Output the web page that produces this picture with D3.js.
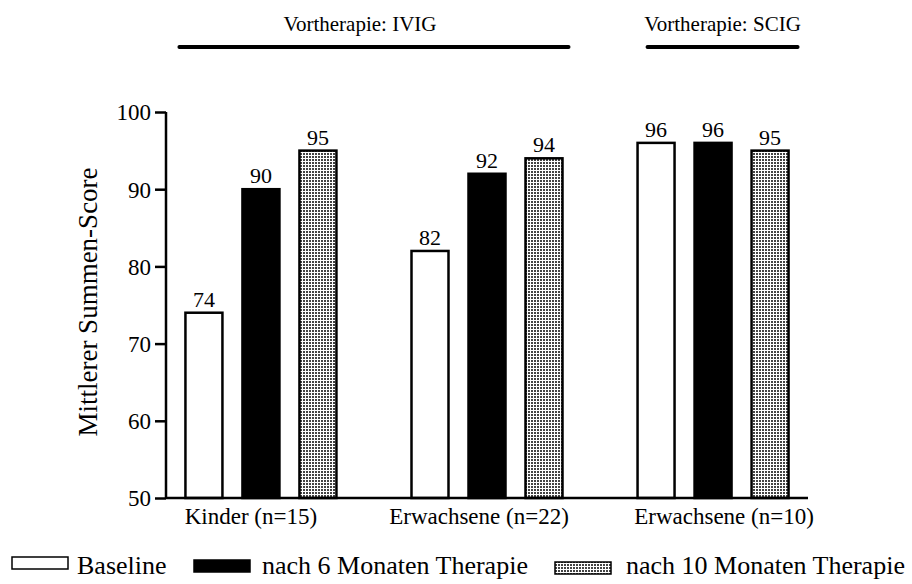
<!DOCTYPE html>
<html><head><meta charset="utf-8">
<script src="https://cdn.jsdelivr.net/npm/d3@7"></script>
<style>body{margin:0;background:#fff}svg{display:block}</style>
</head><body>
<svg id="c" width="912" height="584" style="font-family:'Liberation Serif','Times New Roman',Times,serif"></svg>
<script>
const groups = ["Kinder (n=15)", "Erwachsene (n=22)", "Erwachsene (n=10)"];
const series = ["Baseline", "nach 6 Monaten Therapie", "nach 10 Monaten Therapie"];
const baseline = [74, 82, 96];
const month6 = [90, 92, 96];
const month10 = [95, 94, 95];
const yTicks = [50, 60, 70, 80, 90, 100];
const brackets = [
  {label: "Vortherapie: IVIG", from: 0, to: 1},
  {label: "Vortherapie: SCIG", from: 2, to: 2}
];
const values = [baseline, month6, month10];
const FONT = "'Liberation Serif','Times New Roman',Times,serif";

const svg = d3.select("#c");
const defs = svg.append("defs");
const pat = defs.append("pattern").attr("id","dots").attr("patternUnits","userSpaceOnUse")
  .attr("width",3).attr("height",3);
pat.append("rect").attr("width",3).attr("height",3).attr("fill","#fff");
pat.append("rect").attr("width",2).attr("height",2).attr("fill","#444");

const fills = ["#fff", "#000", "url(#dots)"];

const x0 = d3.scaleBand().domain(groups).range([166, 808]).paddingInner(0.332).paddingOuter(0.086);
const x1 = d3.scaleBand().domain(series).range([0, x0.bandwidth()]).paddingInner(0.351).paddingOuter(0);
const y = d3.scaleLinear().domain([50, 100]).range([498, 112]);

function txt(sel){ return sel.style("font-family", FONT).attr("fill", "#000"); }

// bars
groups.forEach((g, gi) => {
  series.forEach((s, si) => {
    const v = values[si][gi];
    svg.append("rect")
      .attr("x", x0(g) + x1(s))
      .attr("y", y(v))
      .attr("width", x1.bandwidth())
      .attr("height", y(50) - y(v))
      .attr("fill", fills[si])
      .attr("stroke", "#000").attr("stroke-width", 2.5);
    txt(svg.append("text"))
      .attr("x", x0(g) + x1(s) + x1.bandwidth()/2)
      .attr("y", y(v) - 6)
      .attr("text-anchor", "middle")
      .style("font-size", "22px")
      .text(v);
  });
});

// y axis
const yAxis = d3.axisLeft(y).tickValues(yTicks).tickSize(11).tickPadding(4);
const ya = svg.append("g").attr("transform", "translate(166,0)").call(yAxis);
ya.attr("font-family", null);
ya.select(".domain").attr("stroke-width", 2.5).attr("d", `M0,${y(100)}V${y(50)}`);
ya.selectAll(".tick line").attr("stroke-width", 2.5);
txt(ya.selectAll(".tick text")).style("font-size", "23px").attr("dy", "0.34em");

// x axis line
const labelShift = [-10, -8, 11];
const xa = svg.append("g").attr("transform", `translate(0,${y(50)})`)
  .call(d3.axisBottom(x0).tickSize(0).tickPadding(10));
xa.attr("font-family", null);
xa.select(".domain").attr("stroke-width", 2.5).attr("d", `M166,0H808`);
txt(xa.selectAll(".tick text")).style("font-size", "23px").attr("dy", "0.71em")
  .attr("dx", (d, i) => labelShift[i]);

// y label
txt(svg.append("text"))
  .attr("transform", `translate(97,${(y(100)+y(50))/2 - 3}) rotate(-90)`)
  .attr("text-anchor", "middle")
  .style("font-size", "27px")
  .text("Mittlerer Summen-Score");

// brackets
brackets.forEach((b, i) => {
  const xs = x0(groups[b.from]) + (i === 0 ? -6 : 10);
  const xe = x0(groups[b.to]) + x0.bandwidth() + (i === 0 ? 6 : 9);
  svg.append("line").attr("x1", xs).attr("x2", xe).attr("y1", 47).attr("y2", 47)
    .attr("stroke", "#000").attr("stroke-width", 4).attr("stroke-linecap", "round");
  txt(svg.append("text")).attr("x", i === 0 ? 360 : (xs + xe)/2).attr("y", 31)
    .attr("text-anchor", "middle").style("font-size", "21px").text(b.label);
});

// legend
const legX = [12, 194, 555];
const legY = [557, 560, 562];
const legTextX = [77, 262, 626];
series.forEach((s, si) => {
  svg.append("rect").attr("x", legX[si]).attr("y", legY[si]).attr("width", 56).attr("height", 12)
    .attr("fill", fills[si]).attr("stroke", "#000").attr("stroke-width", 1.5);
  txt(svg.append("text")).attr("x", legTextX[si]).attr("y", 574).style("font-size", "26px").text(s);
});
</script>
</body></html>
